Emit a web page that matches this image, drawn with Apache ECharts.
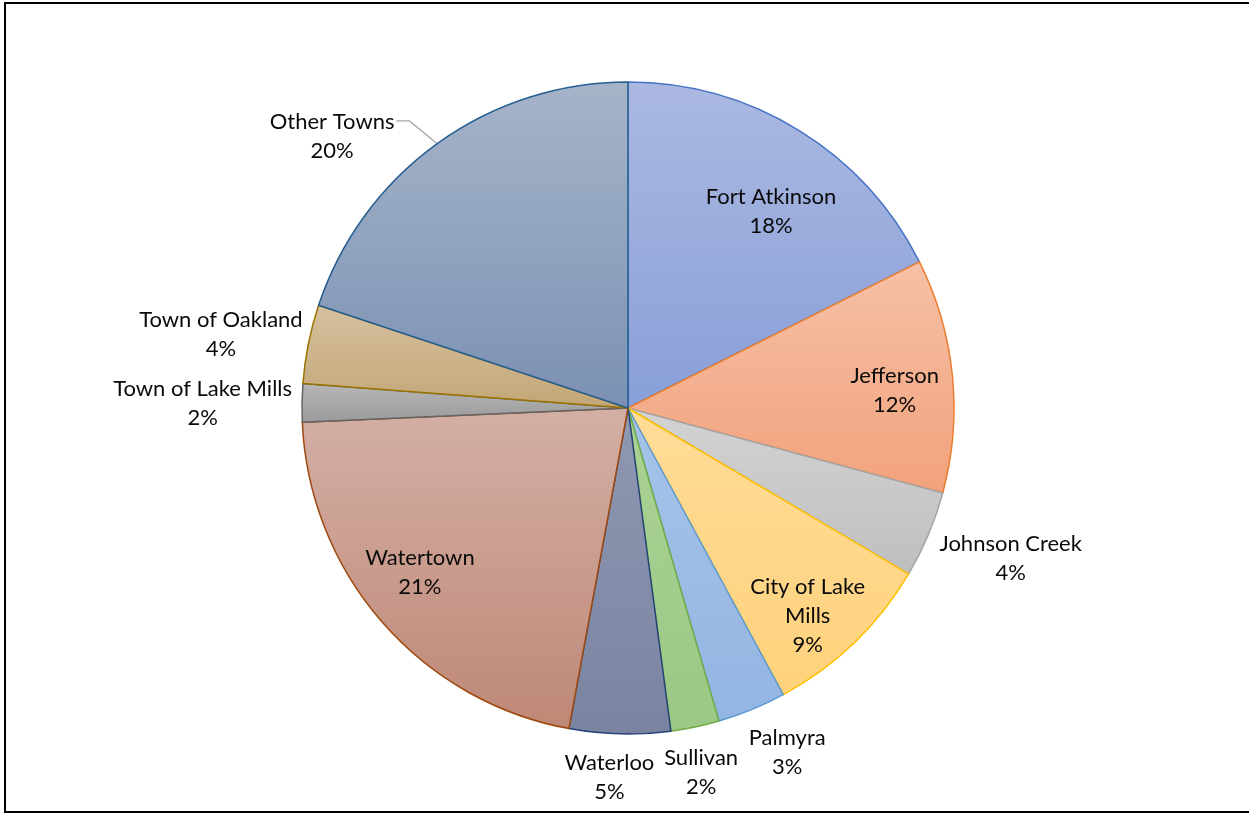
<!DOCTYPE html>
<html>
<head>
<meta charset="utf-8">
<title>Share by Municipality</title>
<script src="https://cdn.jsdelivr.net/npm/echarts@6/dist/echarts.min.js"></script>
<style>
  html, body { margin: 0; padding: 0; background: #ffffff; }
  #chart { width: 1249px; height: 815px; }
</style>
</head>
<body>
<div id="chart"></div>
<script>
// Municipalities, clockwise from 12 o'clock
const categories = [
  'Fort Atkinson', 'Jefferson', 'Johnson Creek', 'City of Lake Mills', 'Palmyra',
  'Sullivan', 'Waterloo', 'Watertown', 'Town of Lake Mills', 'Town of Oakland', 'Other Towns'
];
// Share of total (percent)
const shares = [17.6, 11.6, 4.3, 8.6, 3.4, 2.4, 5.0, 21.4, 1.9, 3.9, 19.9];

// Slice styling: gradient top, gradient bottom, outline
const fillTop    = ['#abb9e1', '#f6c0a6', '#d3d3d3', '#ffdc98', '#a7c3e9', '#abd296', '#9099b3', '#d4afa5', '#b7b7b7', '#d7c1a1', '#a6b4c9'];
const fillBottom = ['#889fd8', '#f2a27c', '#bfbfbf', '#ffd27c', '#93b5e2', '#9bc884', '#7a83a0', '#be8876', '#9a9a9a', '#c2a676', '#7b91b3'];
const outline    = ['#4472c4', '#ed7d31', '#a5a5a5', '#ffc000', '#5b9bd5', '#70ad47', '#264478', '#9e480e', '#636363', '#997300', '#255e91'];

// Label placement in polar terms: [fraction of radius, degrees clockwise from top]
const labelSpots = [
  [0.75, 35.8], [0.82, 86.0], [1.26, 111.3], [0.84, 139.0], [1.16, 155.1],
  [1.135, 168.6], [1.13, 182.9], [0.81, 232.0], [1.305, 270.8], [1.27, 280.5], [1.235, 312.7]
];
// Labels that break across lines
const labelText = { 'City of Lake Mills': 'City of Lake\nMills' };
// Slice with a leader line
const leaderSlices = ['Other Towns'];

const CX = 628, CY = 408, R = 326;
const LINE_H = 29;

const total = shares.reduce((a, b) => a + b, 0);
function midAngle(i) {
  let acc = 0;
  for (let k = 0; k < i; k++) acc += shares[k];
  return (acc + shares[i] / 2) / total * 360;
}
function polar(frac, deg) {
  const a = deg * Math.PI / 180;
  return [CX + frac * R * Math.sin(a), CY - frac * R * Math.cos(a)];
}

const data = categories.map((name, i) => ({
  name: name,
  value: shares[i],
  itemStyle: {
    color: new echarts.graphic.LinearGradient(0, 0, 0, 1, [
      { offset: 0, color: fillTop[i] },
      { offset: 1, color: fillBottom[i] }
    ]),
    borderColor: outline[i],
    borderWidth: 1.5
  },
  labelLine: { show: leaderSlices.indexOf(name) >= 0 }
}));

const chart = echarts.init(document.getElementById('chart'), null, { renderer: 'canvas' });
chart.setOption({
  animation: false,
  backgroundColor: '#ffffff',
  graphic: [{
    type: 'rect',
    shape: { x: 5, y: 3, width: 1250, height: 809 },
    style: { fill: null, stroke: '#000000', lineWidth: 2 },
    silent: true,
    z: 100
  }],
  series: [{
    type: 'pie',
    center: [CX, CY],
    radius: R,
    startAngle: 90,
    clockwise: true,
    avoidLabelOverlap: false,
    data: data,
    label: {
      show: true,
      position: 'outside',
      color: '#0a0a0a',
      fontFamily: 'Lato, "Open Sans", sans-serif',
      fontSize: 22,
      lineHeight: LINE_H,
      align: 'center',
      formatter: function (p) {
        const nm = labelText[p.name] || p.name;
        return nm + '\n' + Math.round(p.percent) + '%';
      }
    },
    labelLine: {
      show: false,
      lineStyle: { color: '#a6a6a6', width: 1.3 },
      length: 10,
      length2: 10
    },
    labelLayout: function (params) {
      const i = params.dataIndex;
      const spot = labelSpots[i];
      const pos = polar(spot[0], spot[1]);
      const out = { x: pos[0], y: pos[1] + 1.5, align: 'center', verticalAlign: 'middle' };
      if (leaderSlices.indexOf(categories[i]) >= 0) {
        const w = params.labelRect.width;
        const h = params.labelRect.height;
        const endX = pos[0] + w / 2 + 2;
        const endY = out.y - h / 2 + LINE_H / 2 - 1;
        const edge = polar(1.0, midAngle(i));
        out.labelLinePoints = [edge, [endX + 13, endY], [endX, endY]];
      }
      return out;
    },
    emphasis: { disabled: true }
  }]
});
</script>
</body>
</html>
